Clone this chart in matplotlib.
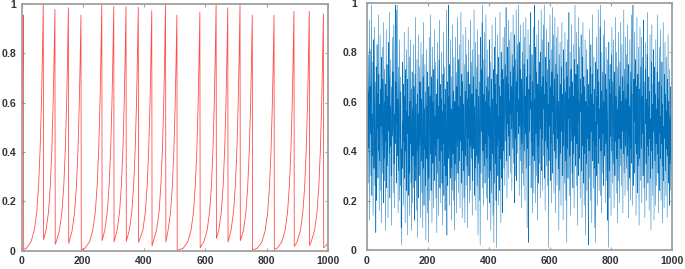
"""Two panels: a red intermittent sawtooth series and a blue chaotic series."""

import matplotlib

matplotlib.use("Agg")
import matplotlib.pyplot as plt
import numpy as np
from matplotlib import font_manager

# red series, one segment per line: slow rise then a sharp drop
RED_X = [
    0, 2, 4, 6,
    7, 16, 31, 42, 50, 56, 61, 65, 68, 71,
    72, 80, 88, 94, 99, 103, 106, 109,
    110, 113, 124, 132, 138, 143, 147, 150, 153,
    154, 165, 173, 179, 184, 188, 191, 194,
    195, 207, 222, 233, 241, 247, 252, 256, 259, 262,
    263, 272, 280, 286, 291, 295, 298, 301,
    302, 312, 320, 326, 331, 335, 338, 341,
    342, 352, 360, 366, 371, 375, 378, 381,
    382, 396, 404, 410, 415, 419, 422, 425,
    426, 441, 449, 455, 460, 464, 467, 470,
    471, 478, 486, 492, 497, 501, 504, 507,
    508, 512, 527, 542, 553, 561, 567, 572, 576, 579, 582,
    583, 595, 606, 614, 620, 625, 629, 632, 635,
    636, 644, 652, 658, 663, 667, 670, 673,
    674, 684, 692, 698, 703, 707, 710, 713,
    714, 724, 732, 738, 743, 747, 750, 753,
    754, 769, 784, 795, 803, 809, 814, 818, 821, 824,
    825, 834, 849, 860, 868, 874, 879, 883, 886, 889,
    890, 899, 910, 918, 924, 929, 933, 936, 939,
    940, 945, 956, 964, 970, 975, 979, 982, 985,
    986, 994, 1000,
]
RED_Y = [
    0.50, 0.60, 0.75, 0.955,
    0.004, 0.010, 0.036, 0.085, 0.16, 0.27, 0.42, 0.60, 0.78, 1.0,
    0.045, 0.083, 0.156, 0.264, 0.41, 0.587, 0.763, 0.978,
    0.026, 0.035, 0.084, 0.158, 0.266, 0.414, 0.591, 0.768, 0.985,
    0.030, 0.081, 0.153, 0.258, 0.401, 0.573, 0.745, 0.955,
    0.004, 0.010, 0.036, 0.085, 0.159, 0.269, 0.418, 0.597, 0.776, 0.995,
    0.041, 0.084, 0.158, 0.267, 0.416, 0.594, 0.772, 0.99,
    0.036, 0.084, 0.158, 0.267, 0.416, 0.594, 0.772, 0.99,
    0.038, 0.084, 0.158, 0.266, 0.415, 0.592, 0.770, 0.987,
    0.034, 0.083, 0.156, 0.263, 0.409, 0.584, 0.759, 0.973,
    0.020, 0.085, 0.16, 0.27, 0.42, 0.60, 0.78, 1.0,
    0.035, 0.081, 0.153, 0.258, 0.401, 0.573, 0.745, 0.955,
    0.002, 0.0034, 0.0097, 0.035, 0.082, 0.155, 0.261, 0.406, 0.58, 0.753, 0.966,
    0.012, 0.036, 0.085, 0.16, 0.27, 0.42, 0.60, 0.78, 1.0,
    0.050, 0.084, 0.158, 0.266, 0.414, 0.591, 0.768, 0.985,
    0.035, 0.085, 0.16, 0.269, 0.419, 0.598, 0.778, 0.997,
    0.041, 0.081, 0.153, 0.258, 0.401, 0.573, 0.745, 0.955,
    0.003, 0.0096, 0.034, 0.081, 0.153, 0.258, 0.401, 0.573, 0.745, 0.955,
    0.005, 0.0097, 0.035, 0.082, 0.155, 0.262, 0.407, 0.582, 0.757, 0.97,
    0.017, 0.035, 0.082, 0.155, 0.262, 0.407, 0.582, 0.757, 0.97,
    0.021, 0.035, 0.082, 0.154, 0.259, 0.403, 0.576, 0.749, 0.96,
    0.012, 0.021, 0.033,
]

# blue series, in percent (25 values per line)
BLUE_PCT = [
    88, 35, 72, 18, 64, 41, 79, 27, 58, 93, 12, 66, 47, 81, 30, 70, 99, 22, 55, 38, 76, 14, 61, 85, 33,
    52, 90, 26, 68, 43, 7, 74, 57, 20, 83, 49, 63, 29, 95, 40, 71, 16, 59, 36, 87, 24, 65, 50, 78, 11,
    45, 82, 31, 69, 54, 19, 92, 37, 73, 28, 60, 8, 67, 44, 89, 25, 56, 75, 34, 62, 13, 84, 48, 70, 39,
    96, 21, 58, 42, 77, 30, 66, 10, 53, 86, 46, 72, 23, 63, 91, 35, 55, 17, 80, 99, 43, 68, 27, 97, 51,
    99, 38, 61, 15, 74, 32, 57, 85, 20, 49, 70, 26, 64, 9, 41, 2, 58, 76, 33, 52, 18, 67, 44, 88, 29,
    62, 11, 73, 40, 56, 24, 81, 36, 6, 69, 47, 90, 22, 54, 31, 78, 14, 60, 43, 85, 27, 65, 8, 50, 72,
    19, 57, 38, 83, 25, 66, 45, 12, 71, 34, 94, 28, 59, 16, 48, 77, 5, 63, 40, 87, 21, 55, 30, 74, 42,
    68, 13, 52, 84, 36, 61, 23, 79, 46, 9, 70, 33, 92, 18, 57, 41, 75, 26, 64, 4, 49, 81, 37, 58, 15,
    72, 44, 3, 66, 29, 86, 51, 20, 62, 39, 95, 24, 55, 70, 11, 47, 82, 35, 60, 17, 73, 42, 89, 28, 54,
    38, 76, 21, 63, 48, 7, 69, 31, 84, 45, 58, 14, 77, 36, 93, 25, 52, 67, 19, 61, 40, 80, 27, 56, 10,
    71, 43, 88, 22, 59, 34, 74, 16, 50, 65, 30, 97, 41, 6, 68, 53, 26, 82, 99, 37, 62, 18, 75, 46, 29,
    85, 33, 57, 12, 70, 48, 24, 91, 39, 64, 20, 78, 45, 8, 60, 35, 86, 28, 53, 72, 15, 66, 42, 94, 31,
    58, 23, 77, 49, 36, 83, 17, 62, 44, 96, 27, 55, 71, 13, 68, 40, 87, 32, 59, 21, 75, 47, 11, 64, 38,
    90, 26, 53, 79, 34, 61, 9, 72, 45, 85, 30, 57, 19, 67, 42, 93, 24, 50, 76, 37, 63, 14, 81, 28, 55,
    70, 41, 97, 22, 58, 33, 84, 47, 16, 65, 38, 74, 26, 89, 51, 6, 62, 35, 79, 44, 20, 68, 2, 57, 86,
    31, 73, 48, 92, 25, 99, 40, 63, 18, 77, 52, 34, 88, 27, 60, 43, 95, 21, 66, 37, 81, 12, 55, 70, 29,
    64, 46, 85, 19, 58, 32, 76, 8, 50, 69, 23, 91, 39, 61, 14, 73, 44, 3, 56, 82, 27, 67, 35, 94, 20,
    59, 1, 71, 42, 87, 30, 54, 18, 78, 45, 66, 24, 96, 37, 62, 11, 80, 48, 29, 73, 53, 15, 86, 40, 69,
    33, 90, 57, 26, 75, 44, 63, 98, 36, 70, 21, 82, 51, 67, 29, 93, 46, 60, 38, 85, 55, 72, 31, 88, 49,
    66, 24, 79, 58, 41, 95, 35, 74, 52, 19, 87, 63, 30, 77, 45, 97, 28, 68, 56, 83, 39, 71, 99, 47, 61,
    22, 84, 50, 73, 36, 91, 58, 17, 69, 43, 80, 31, 64, 92, 26, 55, 75, 40, 86, 20, 62, 47, 94, 33, 70,
    52, 9, 77, 41, 89, 28, 3, 65, 48, 83, 34, 71, 57, 96, 25, 60, 44, 79, 15, 68, 38, 90, 53, 23, 74,
    99, 36, 61, 19, 82, 47, 72, 30, 87, 55, 12, 67, 42, 93, 27, 58, 76, 35, 64, 21, 80, 49, 97, 32, 66,
    45, 85, 24, 70, 38, 91, 57, 99, 29, 63, 16, 78, 44, 68, 34, 89, 52, 26, 73, 41, 84, 1, 59, 36, 77,
    50, 95, 28, 66, 43, 81, 19, 72, 56, 98, 31, 62, 47, 87, 23, 69, 40, 94, 53, 15, 75, 37, 86, 58, 26,
    71, 45, 90, 33, 60, 8, 79, 52, 24, 84, 39, 67, 18, 74, 48, 92, 30, 63, 55, 12, 81, 42, 69, 27, 58,
    88, 36, 64, 20, 76, 47, 3, 70, 41, 85, 29, 61, 53, 96, 22, 66, 38, 80, 14, 58, 73, 44, 91, 31, 68,
    50, 25, 83, 39, 62, 17, 77, 46, 99, 34, 57, 71, 26, 88, 43, 64, 10, 75, 52, 94, 30, 60, 37, 82, 48,
    21, 69, 56, 87, 32, 63, 13, 78, 42, 92, 27, 54, 70, 18, 66, 39, 85, 47, 6, 60, 35, 81, 24, 73, 45,
    58, 16, 2, 67, 40, 89, 29, 56, 74, 20, 83, 48, 63, 11, 71, 36, 95, 44, 59, 25, 78, 33, 65, 9, 52,
    3, 76, 42, 86, 30, 62, 18, 73, 51, 97, 35, 68, 24, 57, 45, 90, 22, 99, 40, 64, 15, 80, 53, 31, 72,
    47, 87, 26, 60, 38, 93, 55, 19, 71, 43, 82, 28, 65, 50, 12, 77, 36, 1, 58, 84, 32, 69, 21, 75, 46,
    63, 14, 79, 40, 90, 54, 27, 68, 35, 85, 49, 17, 72, 58, 30, 94, 44, 62, 23, 80, 37, 57, 11, 74, 51,
    28, 88, 45, 66, 19, 76, 53, 34, 92, 41, 60, 26, 83, 48, 70, 15, 64, 39, 97, 31, 56, 73, 22, 86, 42,
    61, 33, 79, 50, 24, 91, 38, 67, 13, 75, 46, 58, 29, 85, 54, 20, 72, 41, 95, 35, 63, 18, 80, 99, 47,
    26, 69, 52, 88, 31, 60, 43, 77, 14, 66, 39, 94, 23, 57, 71, 34, 82, 48, 10, 65, 37, 90, 55, 28, 74,
    41, 86, 19, 62, 47, 78, 30, 56, 93, 25, 68, 44, 13, 73, 51, 84, 35, 61, 20, 79, 42, 96, 27, 58, 38,
    70, 16, 64, 45, 87, 29, 53, 8, 76, 40, 91, 33, 59, 22, 67, 48, 81, 12, 55, 74, 36, 63, 18, 85, 43,
    57, 26, 72, 39, 95, 31, 61, 15, 68, 47, 82, 24, 54, 37, 89, 20, 66, 43, 76, 11, 59, 34, 92, 28, 50,
    17, 71, 45, 84, 32, 63, 22, 78, 41, 56, 13, 69, 38, 87, 27, 60, 49, 18, 73, 35, 54, 24, 66, 42, 30,
]

X_TICKS = [0, 200, 400, 600, 800, 1000]
Y_TICKS = [0, 0.2, 0.4, 0.6, 0.8, 1]
Y_LABELS = ["0", "0.2", "0.4", "0.6", "0.8", "1"]

FRAME = "#a0a0a0"
LABEL = "#333333"


def tick_font():
    """Pick the regular-width Liberation Sans Bold file, not the Narrow one."""
    for path in font_manager.findSystemFonts():
        if path.endswith("LiberationSans-Bold.ttf"):
            return font_manager.FontProperties(fname=path, size=7.6)
    return font_manager.FontProperties(family="DejaVu Sans", weight="bold",
                                       size=7)


def style_axes(ax, ypad, font):
    """MATLAB-like box with inward ticks on every side."""
    ax.set_xlim(0, 1000)
    ax.set_ylim(0, 1)
    ax.set_xticks(X_TICKS)
    ax.set_yticks(Y_TICKS)
    ax.set_yticklabels(Y_LABELS)
    for spine in ax.spines.values():
        spine.set_color(FRAME)
        spine.set_linewidth(1.3)
    ax.tick_params(direction="in", length=2.5, width=0.8, color=FRAME,
                   top=True, right=True, labelcolor=LABEL)
    ax.tick_params(axis="y", pad=ypad)
    ax.tick_params(axis="x", pad=4)
    for lab in ax.get_xticklabels() + ax.get_yticklabels():
        lab.set_fontproperties(font)


def main():
    font = tick_font()
    fig = plt.figure(figsize=(6.85, 2.69), dpi=100)

    left = fig.add_axes([0.0314, 0.068, 0.4474, 0.917])
    left.plot(RED_X, RED_Y, color="#ff2020", linewidth=0.6, alpha=0.8)
    style_axes(left, 4, font)

    right = fig.add_axes([0.5353, 0.0706, 0.4453, 0.920])
    blue = np.array(BLUE_PCT) / 100.0
    right.plot(np.arange(len(blue)), blue, color="#0070BB", linewidth=0.35)
    style_axes(right, 7, font)

    fig.savefig("out.png", dpi=100)
    plt.close(fig)


if __name__ == "__main__":
    main()
